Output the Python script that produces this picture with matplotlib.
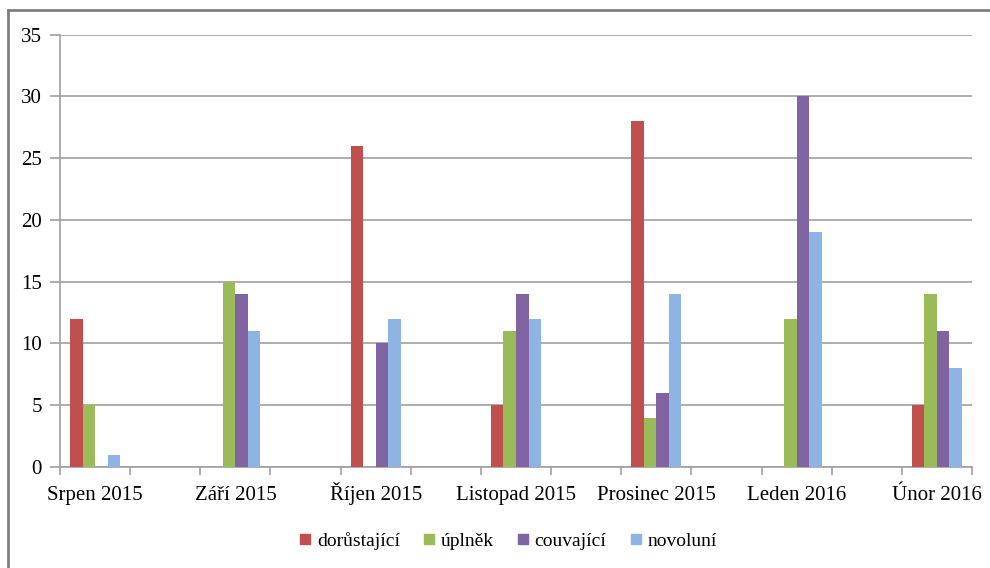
import matplotlib.pyplot as plt
import numpy as np
from matplotlib.lines import Line2D

plt.rcParams['font.family'] = ['Liberation Serif', 'DejaVu Serif']

# data
months = ['Srpen 2015', 'Září 2015', 'Říjen 2015', 'Listopad 2015',
          'Prosinec 2015', 'Leden 2016', 'Únor 2016']
series = ['dorůstající', 'úplněk', 'couvající', 'novoluní']
dorustajici = [12, 0, 26, 5, 28, 0, 5]
uplnek = [5, 15, 0, 11, 4, 12, 14]
couvajici = [0, 14, 10, 14, 6, 30, 11]
novoluni = [1, 11, 12, 12, 14, 19, 8]
colors = ['#C0504D', '#9BBB59', '#8064A2', '#8EB4E3']

values = [dorustajici, uplnek, couvajici, novoluni]

fig = plt.figure(figsize=(9.9, 5.68), dpi=100)
ax = fig.add_axes([60/990, 1-467/568, (972-60)/990, (467-34.5)/568])

# months sit on every other slot of a 13-slot axis
x = np.arange(len(months)) * 2
w = 0.179
for i, (vals, c) in enumerate(zip(values, colors)):
  ax.bar(x + (i - 1.5) * w, vals, w, color=c, label=series[i], zorder=3)

ax.set_xlim(-0.5, 12.5)
ax.set_ylim(0, 35)
ax.set_yticks(range(0, 36, 5))
ax.yaxis.grid(True, color='#a0a0a0', linewidth=1.2, zorder=0)

# ticks at slot edges, labels at month centres
ax.set_xticks(np.arange(-0.5, 13, 1))
ax.set_xticklabels([])
ax.set_xticks(x, minor=True)
ax.set_xticklabels(months, minor=True, fontsize=15, va='baseline')
ax.tick_params(axis='x', which='major', length=6, color='#a0a0a0', width=1.2)
ax.tick_params(axis='x', which='minor', length=0, pad=24)
ax.tick_params(axis='y', length=7, color='#a0a0a0', width=1.2, labelsize=15, pad=6)

for s in ['top', 'right']:
  ax.spines[s].set_visible(False)
for s in ['left', 'bottom']:
  ax.spines[s].set_color('#a0a0a0')
  ax.spines[s].set_linewidth(1.2)

# legend below the plot
handles = [Line2D([], [], marker='s', linestyle='none', markersize=7,
                  markerfacecolor=c, markeredgecolor=c) for c in colors]
fig.legend(handles, series, loc='center', bbox_to_anchor=(508/990, 1-541/568),
           ncol=4, frameon=False, fontsize=14, handlelength=0.6,
           handletextpad=0.3, columnspacing=1.2)

# outer frame (only top and left visible in the original)
fig.add_artist(Line2D([8/990, 1], [1-10/568, 1-10/568], color='#808080',
                      linewidth=2, transform=fig.transFigure))
fig.add_artist(Line2D([8/990, 8/990], [0, 1-10/568], color='#808080',
                      linewidth=2, transform=fig.transFigure))

fig.savefig('out.png', dpi=100)
